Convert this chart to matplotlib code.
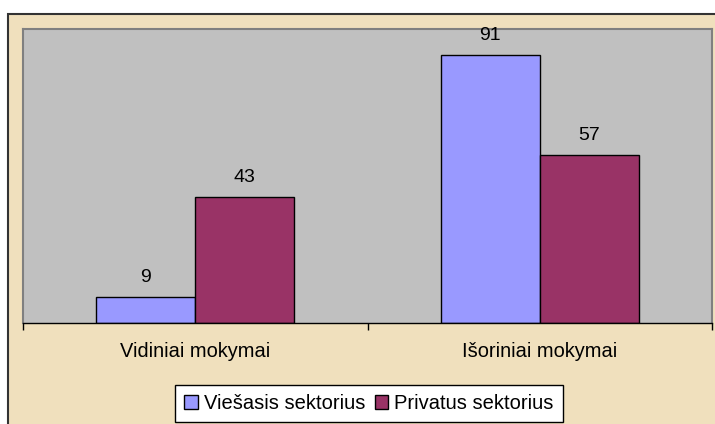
import matplotlib.pyplot as plt
from matplotlib.patches import Rectangle
import numpy as np

categories = ["Vidiniai mokymai", "Išoriniai mokymai"]
series_names = ["Viešasis sektorius", "Privatus sektorius"]
viesasis = [9, 91]
privatus = [43, 57]
colors = ["#9999ff", "#993366"]

plt.rcParams["font.family"] = ["Liberation Sans", "DejaVu Sans"]

W, H = 715, 424
fig = plt.figure(figsize=(W / 100, H / 100), dpi=100)
fig.patch.set_facecolor("white")

# parchment chart area with dark frame
frame = Rectangle((8 / W, -0.05), 1.0, (H - 14) / H + 0.05,
                  transform=fig.transFigure, facecolor="#f0e0bd",
                  edgecolor="#333333", linewidth=1.5, zorder=-10)
fig.add_artist(frame)

ax = fig.add_axes([23 / W, (H - 323) / H, (712 - 23) / W, (323 - 29) / H])
ax.set_zorder(1)
ax.set_facecolor("#c0c0c0")

x = np.arange(len(categories))
w = 0.288
b1 = ax.bar(x - w / 2, viesasis, w, color=colors[0], edgecolor="black",
            linewidth=1, label=series_names[0], zorder=2)
b2 = ax.bar(x + w / 2, privatus, w, color=colors[1], edgecolor="black",
            linewidth=1, label=series_names[1], zorder=2)

for bars in (b1, b2):
    for rect in bars:
        ax.annotate(f"{rect.get_height():g}",
                    (rect.get_x() + rect.get_width() / 2, rect.get_height()),
                    xytext=(0, 10.8), textcoords="offset points",
                    ha="center", va="baseline", fontsize=14)

ax.set_xlim(-0.5, len(categories) - 0.5)
ax.set_ylim(0, 100)
ax.set_yticks([])
ax.set_xticks(np.arange(len(categories) + 1) - 0.5)
ax.set_xticklabels([])
ax.tick_params(axis="x", which="major", length=5, width=1, color="black",
               direction="out")
ax.set_xticks(x, minor=True)
ax.set_xticklabels(categories, minor=True, fontsize=14.4)
ax.tick_params(axis="x", which="minor", length=0, pad=14)

for side in ("left", "top", "right"):
    ax.spines[side].set_color("#808080")
    ax.spines[side].set_linewidth(1.5)
ax.spines["bottom"].set_color("black")
ax.spines["bottom"].set_linewidth(1)

leg = fig.legend(loc="center", bbox_to_anchor=(369 / W, 1 - 403.5 / H),
                 ncol=2, fontsize=14.5, frameon=True, fancybox=False,
                 edgecolor="black", framealpha=1, handlelength=0.65,
                 handleheight=0.65, handletextpad=0.3, columnspacing=0.5,
                 borderpad=0.45, borderaxespad=0)
leg.get_frame().set_linewidth(1)

fig.savefig("out.png", dpi=100)
